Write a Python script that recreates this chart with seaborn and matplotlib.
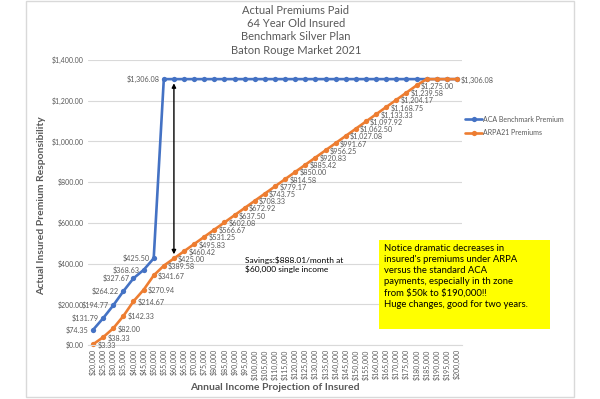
import numpy as np
import pandas as pd
import matplotlib
matplotlib.use("Agg")
import matplotlib.pyplot as plt
from matplotlib.patches import Rectangle
import seaborn as sns

# income categories (monthly premium by annual income)
income = [20000, 25000, 30000, 35000, 40000, 45000, 50000, 55000, 60000, 65000,
          70000, 75000, 80000, 85000, 90000, 95000, 100000, 105000, 110000, 115000,
          120000, 125000, 130000, 135000, 140000, 145000, 150000, 155000, 160000,
          165000, 170000, 175000, 180000, 185000, 190000, 195000, 200000]

aca = [74.35, 131.79, 194.77, 264.22, 327.67, 368.63, 425.50, 1306.08, 1306.08,
       1306.08, 1306.08, 1306.08, 1306.08, 1306.08, 1306.08, 1306.08, 1306.08,
       1306.08, 1306.08, 1306.08, 1306.08, 1306.08, 1306.08, 1306.08, 1306.08,
       1306.08, 1306.08, 1306.08, 1306.08, 1306.08, 1306.08, 1306.08, 1306.08,
       1306.08, 1306.08, 1306.08, 1306.08]

arpa = [3.33, 38.33, 82.00, 142.33, 214.67, 270.94, 341.67, 389.58, 425.00, 460.42,
        495.83, 531.25, 566.67, 602.08, 637.50, 672.92, 708.33, 743.75, 779.17,
        814.58, 850.00, 885.42, 920.83, 956.25, 991.67, 1027.08, 1062.50, 1097.92,
        1133.33, 1168.75, 1204.17, 1239.58, 1275.00, 1306.08, 1306.08, 1306.08,
        1306.08]

series_names = ["ACA Benchmark Premium", "ARPA21 Premiums"]
colors = ["#4472C4", "#ED7D31"]
yticks = [0, 200, 400, 600, 800, 1000, 1200, 1400]

sns.set_style("white")
plt.rcParams['font.family'] = ['Lato', 'DejaVu Sans']
gray = "#595959"
grid = "#d9d9d9"

df = pd.DataFrame({
    "income": income * 2,
    "premium": aca + arpa,
    "series": [series_names[0]] * len(income) + [series_names[1]] * len(income),
})

fig = plt.figure(figsize=(6, 3.99), dpi=100)
W, H = 600, 399
ax = fig.add_axes([88 / W, 54 / H, 374 / W, 285 / H])

sns.lineplot(data=df, x="income", y="premium", hue="series", hue_order=series_names,
             palette=colors, marker="o", markersize=3.8, markeredgewidth=0,
             linewidth=1.9, legend=False, ax=ax, clip_on=False)

ax.set_xlim(income[0] - 2500, income[-1] + 2500)
ax.set_ylim(0, 1400)
ax.set_yticks(yticks)
ax.set_yticklabels(["${:,.2f}".format(v) for v in yticks], fontsize=5, color=gray)
ax.set_xticks(income)
ax.set_xticklabels(["${:,}".format(v) for v in income], rotation=90, fontsize=5, color=gray)
ax.tick_params(length=0, pad=3)
ax.grid(axis="y", color=grid, lw=0.8)
for s in ["top", "right", "left"]:
    ax.spines[s].set_visible(False)
ax.spines["bottom"].set_color(grid)
ax.set_xlabel("")
ax.set_ylabel("")

# data labels
for i in range(8):
    ax.annotate("${:,.2f}".format(aca[i]), (income[i], aca[i]), xytext=(-3, 0),
                textcoords="offset points", ha="right", va="center",
                fontsize=5.2, color=gray)
for i in list(range(33)) + [36]:
    ax.annotate("${:,.2f}".format(arpa[i]), (income[i], arpa[i]), xytext=(3, -0.5),
                textcoords="offset points", ha="left", va="center",
                fontsize=5.2, color=gray)

# savings arrow at 60k
ax.annotate("", xy=(60000, 1306.08), xytext=(60000, 425.00),
            arrowprops=dict(arrowstyle="<|-|>", color="black", lw=1,
                            mutation_scale=6, shrinkA=3, shrinkB=3))
fig.text(245 / W, 1 - 256 / H, "Savings:$888.01/month at\n$60,000 single income",
         fontsize=6, color="black", va="top", ha="left", parse_math=False,
         linespacing=1.35)

# legend
handles = ax.lines[:2]
ax.legend(handles, series_names, loc="center left",
          bbox_to_anchor=(459 / W, 1 - 126 / H), bbox_transform=fig.transFigure,
          frameon=False, fontsize=5, handlelength=2.4, handletextpad=0.1,
          labelspacing=0.9, labelcolor=gray)

# titles
fig.text(296 / W, 1 - 5 / H,
         "Actual Premiums Paid\n64 Year Old Insured\nBenchmark Silver Plan\nBaton Rouge Market 2021",
         ha="center", va="top", fontsize=8, color=gray, linespacing=1.25)
fig.text(42 / W, 1 - 206 / H, "Actual Insured Premium Responsibility", rotation=90,
         ha="center", va="center", fontsize=7.5, fontweight="bold", color=gray)
fig.text(275 / W, 1 - 388 / H, "Annual Income Projection of Insured",
         ha="center", va="center", fontsize=7.5, fontweight="bold", color=gray)

# note box
fig.patches.append(Rectangle((379 / W, 1 - 329 / H), 171 / W, 89 / H,
                             transform=fig.transFigure, facecolor="#FFFF00",
                             edgecolor="none", zorder=0))
fig.text(384 / W, 1 - 244 / H,
         "Notice dramatic decreases in\ninsured's premiums under ARPA\nversus the standard ACA\n"
         "payments, especially in th zone\nfrom $50k to $190,000!!\nHuge changes, good for two years.",
         ha="left", va="top", fontsize=6.8, color="black", linespacing=1.3,
         parse_math=False)

# chart frame
fig.patches.append(Rectangle((26 / W, 2 / H), 548 / W, 396 / H,
                             transform=fig.transFigure, fill=False,
                             edgecolor=grid, lw=1))

fig.savefig("out.png", dpi=100)
